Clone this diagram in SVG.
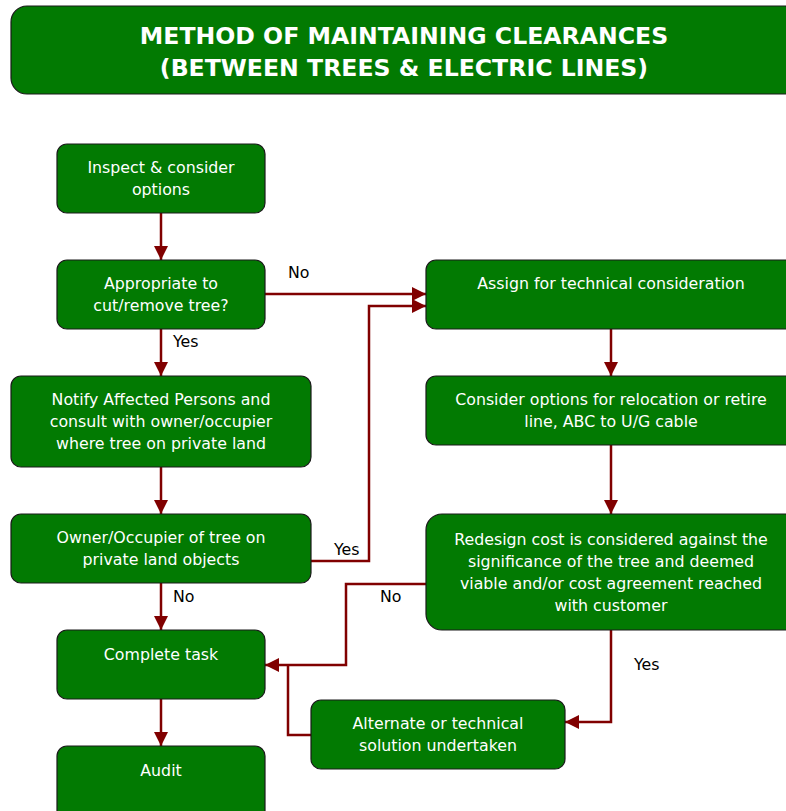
<svg xmlns="http://www.w3.org/2000/svg" width="786" height="811" viewBox="0 0 786 811">
<defs>
<style>
.box{fill:#027A02;stroke:#1a1a1a;stroke-width:1.2}
.t{font-family:"DejaVu Sans",sans-serif;font-size:15.8px;fill:#fff;text-anchor:middle}
.title{font-family:"DejaVu Sans",sans-serif;font-size:23.6px;font-weight:bold;fill:#fff;text-anchor:middle}
.lbl{font-family:"DejaVu Sans",sans-serif;font-size:15.8px;fill:#000}
.c{fill:none;stroke:#800000;stroke-width:2.5}
</style>
<marker id="ah" viewBox="0 0 10 10" refX="10" refY="5" markerWidth="5.6" markerHeight="5.6" markerUnits="strokeWidth" orient="auto">
<path d="M0,0 L10,5 L0,10 Z" fill="#800000"/>
</marker>
</defs>
<rect width="786" height="811" fill="#fff"/>
<g id="title">
<rect class="box" x="11" y="6" width="790" height="88" rx="16"/>
<text class="title" x="404" y="44">METHOD OF MAINTAINING CLEARANCES</text>
<text class="title" x="404" y="76">(BETWEEN TREES &amp; ELECTRIC LINES)</text>
</g>
<g id="connectors">
<path class="c" d="M161,213 V260" marker-end="url(#ah)"/>
<path class="c" d="M265,294 H426" marker-end="url(#ah)"/>
<path class="c" d="M161,329 V376" marker-end="url(#ah)"/>
<path class="c" d="M161,467 V514" marker-end="url(#ah)"/>
<path class="c" d="M311,561 H369 V306 H426" marker-end="url(#ah)"/>
<path class="c" d="M161,583 V630" marker-end="url(#ah)"/>
<path class="c" d="M161,699 V746" marker-end="url(#ah)"/>
<path class="c" d="M611,329 V376" marker-end="url(#ah)"/>
<path class="c" d="M611,445 V514" marker-end="url(#ah)"/>
<path class="c" d="M426,584 H346 V665 H265" marker-end="url(#ah)"/>
<path class="c" d="M611,630 V722 H565" marker-end="url(#ah)"/>
<path class="c" d="M311,735 H288 V665"/>
<text class="lbl" x="288" y="278">No</text>
<text class="lbl" x="173" y="347">Yes</text>
<text class="lbl" x="334" y="555">Yes</text>
<text class="lbl" x="173" y="602">No</text>
<text class="lbl" x="380" y="602">No</text>
<text class="lbl" x="634" y="670">Yes</text>
</g>
<g id="inspect">
<rect class="box" x="57" y="144" width="208" height="69" rx="10"/>
<text class="t" x="161" y="173">Inspect &amp; consider</text>
<text class="t" x="161" y="195">options</text>
</g>
<g id="appropriate">
<rect class="box" x="57" y="260" width="208" height="69" rx="10"/>
<text class="t" x="161" y="289">Appropriate to</text>
<text class="t" x="161" y="311">cut/remove tree?</text>
</g>
<g id="notify">
<rect class="box" x="11" y="376" width="300" height="91" rx="10"/>
<text class="t" x="161" y="405">Notify Affected Persons and</text>
<text class="t" x="161" y="427">consult with owner/occupier</text>
<text class="t" x="161" y="449">where tree on private land</text>
</g>
<g id="owner">
<rect class="box" x="11" y="514" width="300" height="69" rx="10"/>
<text class="t" x="161" y="543">Owner/Occupier of tree on</text>
<text class="t" x="161" y="565">private land objects</text>
</g>
<g id="complete">
<rect class="box" x="57" y="630" width="208" height="69" rx="10"/>
<text class="t" x="161" y="660">Complete task</text>
</g>
<g id="audit">
<rect class="box" x="57" y="746" width="208" height="80" rx="10"/>
<text class="t" x="161" y="776">Audit</text>
</g>
<g id="assign">
<rect class="box" x="426" y="260" width="380" height="69" rx="10"/>
<text class="t" x="611" y="289">Assign for technical consideration</text>
</g>
<g id="consider">
<rect class="box" x="426" y="376" width="380" height="69" rx="10"/>
<text class="t" x="611" y="405">Consider options for relocation or retire</text>
<text class="t" x="611" y="427">line, ABC to U/G cable</text>
</g>
<g id="redesign">
<rect class="box" x="426" y="514" width="380" height="116" rx="16"/>
<text class="t" x="611" y="545">Redesign cost is considered against the</text>
<text class="t" x="611" y="567">significance of the tree and deemed</text>
<text class="t" x="611" y="589">viable and/or cost agreement reached</text>
<text class="t" x="611" y="611">with customer</text>
</g>
<g id="alternate">
<rect class="box" x="311" y="700" width="254" height="69" rx="10"/>
<text class="t" x="438" y="729">Alternate or technical</text>
<text class="t" x="438" y="751">solution undertaken</text>
</g>
</svg>
